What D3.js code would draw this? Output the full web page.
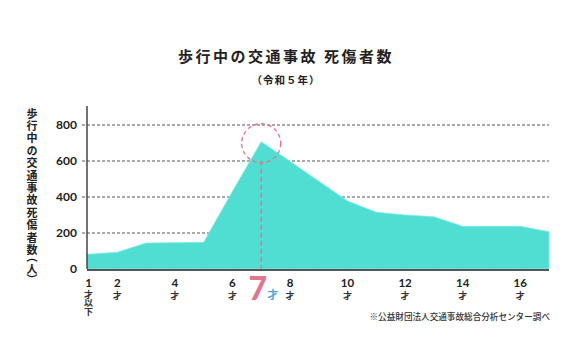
<!DOCTYPE html>
<html><head><meta charset="utf-8">
<script src="https://cdn.jsdelivr.net/npm/d3@7"></script>
<style>
html,body{margin:0;padding:0;background:#fff;}
svg{display:block;font-family:"Noto Sans CJK JP","Noto Sans",sans-serif;}
</style></head>
<body><svg id="c" width="574" height="359"></svg>
<script>
const ages = [1,2,3,4,5,6,7,8,9,10,11,12,13,14,15,16,17];
const casualties = [82,93,144,146,148,430,707,598,488,378,315,300,290,237,237,237,207];
const yTicks = [0,200,400,600,800];
const xTickAges = [1,2,4,6,8,10,12,14,16];
const highlightAge = 7;
const title = "歩行中の交通事故 死傷者数";
const subtitle = "（令和５年）";
const yTitleMain = "歩行中の交通事故死傷者数";
const yTitleUnit = "（人）";
const source = "※公益財団法人交通事故総合分析センター調べ";

const svg = d3.select("#c");
const x = d3.scaleLinear().domain([1,17]).range([88.5,549]);
const y = d3.scaleLinear().domain([0,900]).range([269,107]);
const axisX = 87;

// gridlines
svg.append("g").selectAll("line").data(yTicks.filter(d=>d>0)).join("line")
  .attr("x1",82).attr("x2",549).attr("y1",d=>y(d)).attr("y2",d=>y(d))
  .attr("stroke","#555").attr("stroke-width",1).attr("stroke-dasharray","3,2");

// area
const data = ages.map((a,i)=>({a,v:casualties[i]}));
const area = d3.area().x(d=>x(d.a)).y0(y(0)).y1(d=>y(d.v));
svg.append("path").datum(data).attr("d",area)
  .attr("fill","#50ded3").attr("stroke","#7ee9e1").attr("stroke-width",0.8);
svg.append("rect").attr("x",axisX).attr("width",x(1)-axisX+0.5)
  .attr("y",y(casualties[0])).attr("height",y(0)-y(casualties[0])).attr("fill","#50ded3");

// highlight line and circle
const hx = x(highlightAge), hv = casualties[ages.indexOf(highlightAge)];
svg.append("line").attr("x1",hx).attr("x2",hx).attr("y1",y(hv)+19).attr("y2",y(0))
  .attr("stroke","#e8708a").attr("stroke-width",1.3).attr("stroke-dasharray","5,3");
svg.append("circle").attr("cx",hx).attr("cy",y(hv)+1.5).attr("r",19.5)
  .attr("fill","none").attr("stroke","#e8708a").attr("stroke-width",1.3).attr("stroke-dasharray","4,3");

// axes lines
svg.append("line").attr("x1",axisX).attr("x2",axisX).attr("y1",106).attr("y2",y(0))
  .attr("stroke","#444").attr("stroke-width",1.5);
svg.append("line").attr("x1",axisX).attr("x2",549).attr("y1",y(0)+1).attr("y2",y(0)+1)
  .attr("stroke","#555").attr("stroke-width",2);

// y tick labels
svg.append("g").selectAll("text").data(yTicks).join("text")
  .attr("x",77).attr("y",d=>y(d)).attr("dy","0.36em").attr("text-anchor","end")
  .attr("font-size",12).attr("font-weight",700).attr("fill","#222")
  .attr("font-family","Lato, 'Noto Sans', sans-serif").text(d=>d);

// x tick labels
const xg = svg.append("g").selectAll("g").data(xTickAges).join("g")
  .attr("transform",d=>`translate(${x(d)},0)`);
xg.append("text").attr("y",286.5).attr("text-anchor","middle").attr("font-size",11.5)
  .attr("font-weight",700).attr("fill","#222")
  .attr("font-family","Lato, 'Noto Sans', sans-serif").text(d=>d);
xg.filter(d=>d!==1).append("text").attr("y",299).attr("text-anchor","middle").attr("font-size",9)
  .attr("font-weight",700).attr("fill","#333").text("才");
xg.filter(d=>d===1).append("text").attr("x",0).attr("y",290)
  .style("writing-mode","vertical-rl").attr("font-size",9).attr("letter-spacing","-0.5px")
  .attr("font-weight",700).attr("fill","#333").text("才以下");

// highlight label
svg.append("text").attr("x",hx-3.5).attr("y",300).attr("text-anchor","middle")
  .attr("font-size",32).attr("font-weight",900).attr("fill","#e2768f")
  .attr("font-family","Lato, 'Noto Sans', sans-serif").text(highlightAge);
svg.append("text").attr("x",hx+11.5).attr("y",299).attr("text-anchor","middle")
  .attr("font-size",11).attr("font-weight",700).attr("fill","#4aa8e0").text("才");

// title
svg.append("text").attr("x",286).attr("y",62).attr("text-anchor","middle")
  .attr("font-size",15).attr("font-weight",700).attr("letter-spacing","2.5px").attr("fill","#222").text(title);
svg.append("text").attr("x",286).attr("y",84).attr("text-anchor","middle")
  .attr("font-size",10.5).attr("font-weight",700).attr("letter-spacing","1px").attr("fill","#222").text(subtitle);

// y title vertical
const yt = svg.append("text").attr("x",32).attr("y",108)
  .style("writing-mode","vertical-rl")
  .attr("font-size",11).attr("font-weight",700).attr("fill","#222");
yt.append("tspan").attr("letter-spacing","1.4px").text(yTitleMain);
yt.append("tspan").style("font-feature-settings","'vhal' 1").attr("letter-spacing","0.5px").text(yTitleUnit);

// source
svg.append("text").attr("x",550).attr("y",320).attr("text-anchor","end")
  .attr("font-size",8.6).attr("font-weight",500).attr("fill","#333").text(source);
</script></body></html>
